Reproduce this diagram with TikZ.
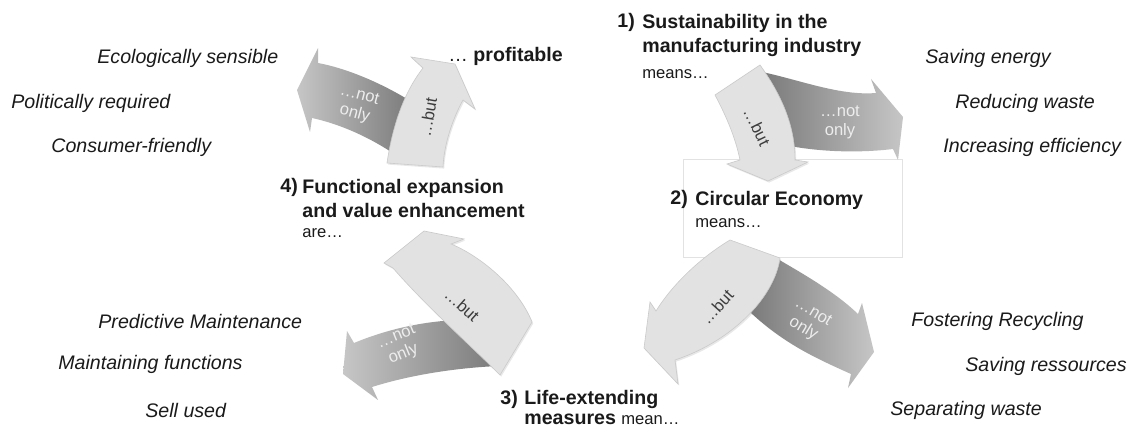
\documentclass[tikz,border=0pt]{standalone}
\usepackage{fontspec}
\setmainfont{Liberation Sans}
\usetikzlibrary{shadows}

\definecolor{ink}{HTML}{1A1A1A}
\definecolor{butfill}{HTML}{E2E2E2}
\definecolor{butedge}{HTML}{CACACA}
\definecolor{nottail}{HTML}{7A7A7A}
\definecolor{nothead}{HTML}{C6C6C6}
\definecolor{notink}{HTML}{EDEDED}
\definecolor{boxedge}{HTML}{E2E2E2}

\newcommand\listfont{\fontsize{9.8}{12}\selectfont\itshape}
\newcommand\stagefont{\fontsize{9.8}{12}\selectfont\bfseries}
\newcommand\notefont{\fontsize{8.3}{10}\selectfont\mdseries}
\newcommand\tagfont{\fontsize{8.3}{9.5}\selectfont}

\tikzset{listitem/.style={font=\listfont,text=ink,anchor=west,inner sep=0pt}}
\tikzset{stage/.style={font=\stagefont,text=ink,align=left,anchor=north west,inner sep=0pt}}
\tikzset{stagenum/.style={font=\stagefont,text=ink,anchor=base west,inner sep=0pt}}
\tikzset{butarrow/.style={fill=butfill,draw=butedge,line width=0.3pt,
  drop shadow={opacity=0.18,shadow xshift=0.6pt,shadow yshift=-0.8pt}}}
\tikzset{notarrow/.style={draw=none}}
\tikzset{butlabel/.style={font=\tagfont,text=ink!85}}
\tikzset{notlabel/.style={font=\tagfont,text=notink,align=center}}

\begin{document}
\begin{tikzpicture}[x=0.5pt,y=-0.5pt]
    \useasboundingbox (0,0) rectangle (1134,427);
    \fill[white] (0,0) rectangle (1134,427);

    % frame round stage 2
    \draw[boxedge,fill=white,line width=0.4pt] (683,159) rectangle (902,257);

    % ...not only arrows (behind)
    \path[notarrow,left color=nottail,right color=nothead]
        (762,72) .. controls (800,80) and (840,96) .. (876,93) -- (871,79) -- (903,117)
        -- (898,160) -- (893,149) .. controls (860,153) and (822,152) .. (790,146) -- cycle;
    \path[notarrow,left color=nottail,right color=nothead]
        (776,258) .. controls (805,275) and (835,292) .. (858,314) -- (862,303) -- (874,352)
        -- (848,388) -- (851,374) .. controls (820,360) and (785,345) .. (750,312) -- cycle;
    \path[notarrow,left color=nothead,right color=nottail]
        (480,320) .. controls (430,318) and (385,330) .. (354,343) -- (347,331) -- (343,374)
        -- (378,400) -- (372,387) .. controls (410,375) and (455,368) .. (498,366) -- cycle;
    \path[notarrow,left color=nothead,right color=nottail]
        (412,102) .. controls (380,82) and (345,68) .. (318,63) -- (318,48) -- (297,90)
        -- (310,132) -- (312,118) .. controls (340,124) and (372,138) .. (400,158) -- cycle;

    % ...but arrows (on top)
    \path[butarrow]
        (715,95) -- (760,65) .. controls (785,100) and (795,130) .. (795,160) -- (808,162)
        -- (768,181) -- (727,164) -- (740,160) .. controls (735,135) and (724,112) .. (715,95) -- cycle;
    \path[butarrow]
        (730,240) -- (780,258) .. controls (775,295) and (735,340) .. (675,360) -- (678,384)
        -- (644,348) -- (650,302) -- (656,311) .. controls (672,285) and (700,258) .. (730,240) -- cycle;
    \path[butarrow]
        (532,322) -- (500,375) .. controls (470,345) and (425,305) .. (393,268) -- (384,263)
        -- (424,231) -- (464,239) -- (451,244) .. controls (478,255) and (517,285) .. (532,322) -- cycle;
    \path[butarrow]
        (387,163) -- (443,167) .. controls (444,145) and (452,120) .. (463,100) -- (475,109)
        -- (455,64) -- (411,57) -- (423,68) .. controls (402,95) and (392,130) .. (387,163) -- cycle;

    % arrow labels
    \node[notlabel] (not1) at (840,122) {…not\\only};
    \node[notlabel,rotate=-31] (not2) at (808,321) {…not\\only};
    \node[notlabel,rotate=22] (not3) at (400,346) {…not\\only};
    \node[notlabel,rotate=-15] (not4) at (357,105) {…not\\only};
    \node[butlabel,rotate=-64] (but1) at (757,127) {…but};
    \node[butlabel,rotate=48] (but2) at (717,307) {…but};
    \node[butlabel,rotate=-42] (but3) at (462,305) {…but};
    \node[butlabel,rotate=80] (but4) at (428,117) {…but};

    % stages
    \node[stagenum] (n1) at (617,28) {1)};
    \node[stage] (s1) at (642,14) {Sustainability in the\\manufacturing industry\\[1pt]\notefont means…};
    \node[stagenum] (n2) at (670,205) {2)};
    \node[stage] (s2) at (695,191) {Circular Economy\\[-1pt]\notefont means…};
    \node[stagenum] (n3) at (500,404) {3)};
    \node[stage] (s3) at (524,390) {Life-extending\\[-2pt]measures {\notefont mean…}};
    \node[stagenum] (n4) at (280,193) {4)};
    \node[stage] (s4) at (302,179) {Functional expansion\\and value enhancement\\[-2pt]\notefont are…};
    \node[stagenum,font=\stagefont] (profit) at (448,62) {{\mdseries…} profitable};

    % lists
    \node[listitem] (eco) at (97,58) {Ecologically sensible};
    \node[listitem] (pol) at (11,103) {Politically required};
    \node[listitem] (con) at (51,147) {Consumer-friendly};
    \node[listitem] (ener) at (925,58) {Saving energy};
    \node[listitem] (wast) at (955,103) {Reducing waste};
    \node[listitem] (effi) at (943,147) {Increasing efficiency};
    \node[listitem] (pred) at (98,321) {Predictive Maintenance};
    \node[listitem] (func) at (58,364) {Maintaining functions};
    \node[listitem] (sell) at (145,410) {Sell used};
    \node[listitem] (recy) at (911,321) {Fostering Recycling};
    \node[listitem] (ress) at (965,366) {Saving ressources};
    \node[listitem] (sepa) at (890,410) {Separating waste};
\end{tikzpicture}
\end{document}
